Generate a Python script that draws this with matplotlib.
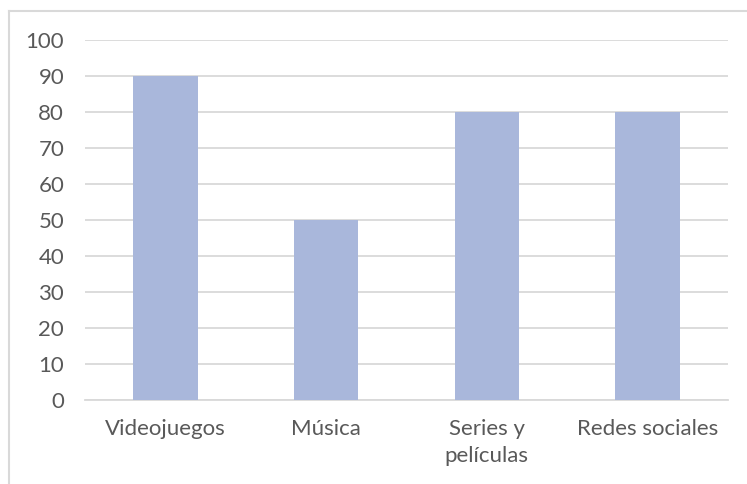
import matplotlib
matplotlib.use("Agg")
import matplotlib.pyplot as plt
from matplotlib.lines import Line2D

categories = ["Videojuegos", "Música", "Series y\npelículas", "Redes sociales"]
values = [90, 50, 80, 80]
yticks = [0, 10, 20, 30, 40, 50, 60, 70, 80, 90, 100]

plt.rcParams['font.family'] = ['Lato', 'DejaVu Sans']

W, H = 747, 484
fig = plt.figure(figsize=(W / 100, H / 100), dpi=100)
fig.patch.set_facecolor("white")

ax = fig.add_axes([85 / W, 1 - 400 / H, (728 - 85) / W, (400 - 40) / H])
x = list(range(len(categories)))
ax.bar(x, values, width=0.4, color="#A9B7DB", zorder=3)
ax.set_xlim(-0.5, len(categories) - 0.5)
ax.set_ylim(0, 100)
ax.set_yticks(yticks)
ax.set_xticks(x)
ax.set_xticklabels(categories, linespacing=1.4)
ax.yaxis.grid(True, color="#D9D9D9", linewidth=1.3, zorder=0)
ax.set_axisbelow(True)
for s in ["top", "right", "left"]:
    ax.spines[s].set_visible(False)
ax.spines["bottom"].set_color("#D9D9D9")
ax.spines["bottom"].set_linewidth(1.3)
ax.tick_params(axis="both", length=0, labelsize=16, labelcolor="#595959")
ax.tick_params(axis="y", pad=15)
ax.tick_params(axis="x", pad=14)
for lbl in ax.get_xticklabels():
    lbl.set_verticalalignment("top")

# chart border (left and top visible)
fig.add_artist(Line2D([9 / W, 9 / W], [0, 1 - 11 / H], transform=fig.transFigure, color="#D9D9D9", linewidth=1.5))
fig.add_artist(Line2D([9 / W, 1], [1 - 11 / H, 1 - 11 / H], transform=fig.transFigure, color="#D9D9D9", linewidth=1.5))

fig.savefig("out.png", dpi=100, facecolor="white")
